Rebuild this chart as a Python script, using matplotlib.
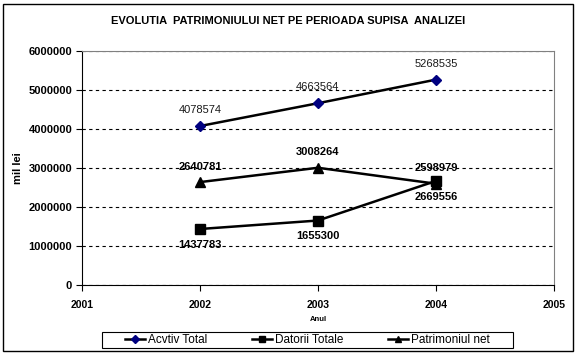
import matplotlib
matplotlib.use("Agg")
import matplotlib.pyplot as plt
from matplotlib.patches import Rectangle

# ── data ──────────────────────────────────────────────────────────────────────
YEARS = [2002, 2003, 2004]
ACTIV_TOTAL = [4078574, 4663564, 5268535]
DATORII_TOTALE = [1437783, 1655300, 2669556]
PATRIMONIU_NET = [2640781, 3008264, 2598979]
SERIES_NAMES = ["Acvtiv Total", "Datorii Totale", "Patrimoniul net"]
X_TICKS = [2001, 2002, 2003, 2004, 2005]
Y_TICKS = [0, 1000000, 2000000, 3000000, 4000000, 5000000, 6000000]

plt.rcParams["font.family"] = ["Liberation Sans", "DejaVu Sans"]

fig = plt.figure(figsize=(5.77, 3.55), dpi=100)
ax = fig.add_axes([0.142, 0.197, 0.818, 0.659])

# outer frame of the chart
fig.patches.append(Rectangle((0.005, 0.012), 0.988, 0.978, transform=fig.transFigure,
                             fill=False, edgecolor="black", linewidth=1))

ax.plot(YEARS, ACTIV_TOTAL, color="black", lw=1.8, marker="D", ms=5,
        mfc="#000080", mec="#000080", label=SERIES_NAMES[0], zorder=3)
ax.plot(YEARS, DATORII_TOTALE, color="black", lw=1.8, marker="s", ms=6.5,
        mfc="black", mec="black", label=SERIES_NAMES[1], zorder=3)
ax.plot(YEARS, PATRIMONIU_NET, color="black", lw=1.8, marker="^", ms=6.5,
        mfc="black", mec="black", label=SERIES_NAMES[2], zorder=3)

# data labels
for x, v in zip(YEARS, ACTIV_TOTAL):
    ax.annotate(str(v), (x, v), xytext=(0, 11.5), textcoords="offset points",
                ha="center", va="center", fontsize=8, color="#1a1a1a")
for x, v in zip(YEARS, PATRIMONIU_NET):
    ax.annotate(str(v), (x, v), xytext=(0, 11), textcoords="offset points",
                ha="center", va="center", fontsize=8, fontweight="bold")
for x, v in zip(YEARS, DATORII_TOTALE):
    ax.annotate(str(v), (x, v), xytext=(0, -11.5), textcoords="offset points",
                ha="center", va="center", fontsize=8, fontweight="bold")

ax.set_xlim(2001, 2005)
ax.set_ylim(0, 6000000)
ax.set_xticks(X_TICKS)
ax.set_yticks(Y_TICKS)
ax.set_xticklabels([str(t) for t in X_TICKS], fontsize=7.5, fontweight="bold")
ax.set_yticklabels([str(t) for t in Y_TICKS], fontsize=8, fontweight="bold")
ax.tick_params(axis="both", direction="out", length=4, width=0.8, pad=3)
ax.tick_params(axis="x", pad=7)

ax.yaxis.grid(True, linestyle=(0, (3, 3)), color="black", linewidth=0.8)
ax.set_axisbelow(True)
ax.spines["top"].set_color("#808080")
ax.spines["right"].set_color("#808080")
ax.spines["left"].set_color("black")
ax.spines["bottom"].set_color("black")

ax.set_xlabel("Anul", fontsize=5.5, fontweight="bold", labelpad=4)
ax.set_ylabel("mil lei", fontsize=8, fontweight="bold", labelpad=4)

fig.text(0.5, 0.94, "EVOLUTIA  PATRIMONIULUI NET PE PERIOADA SUPISA  ANALIZEI",
         ha="center", va="center", fontsize=8, fontweight="bold")

# legend: frameless entries plus a wide rectangular box like the original
leg = fig.legend(loc="center", bbox_to_anchor=(0.533, 0.042), ncol=3, fontsize=8.5,
                 frameon=False, handlelength=1.7, columnspacing=3.8,
                 handletextpad=0.25, markerscale=0.75, borderaxespad=0)
fig.patches.append(Rectangle((102 / 577, 1 - 348 / 355), 411 / 577, 16 / 355,
                             transform=fig.transFigure, fill=False,
                             edgecolor="black", linewidth=0.8))

fig.savefig("out.png", dpi=100)
